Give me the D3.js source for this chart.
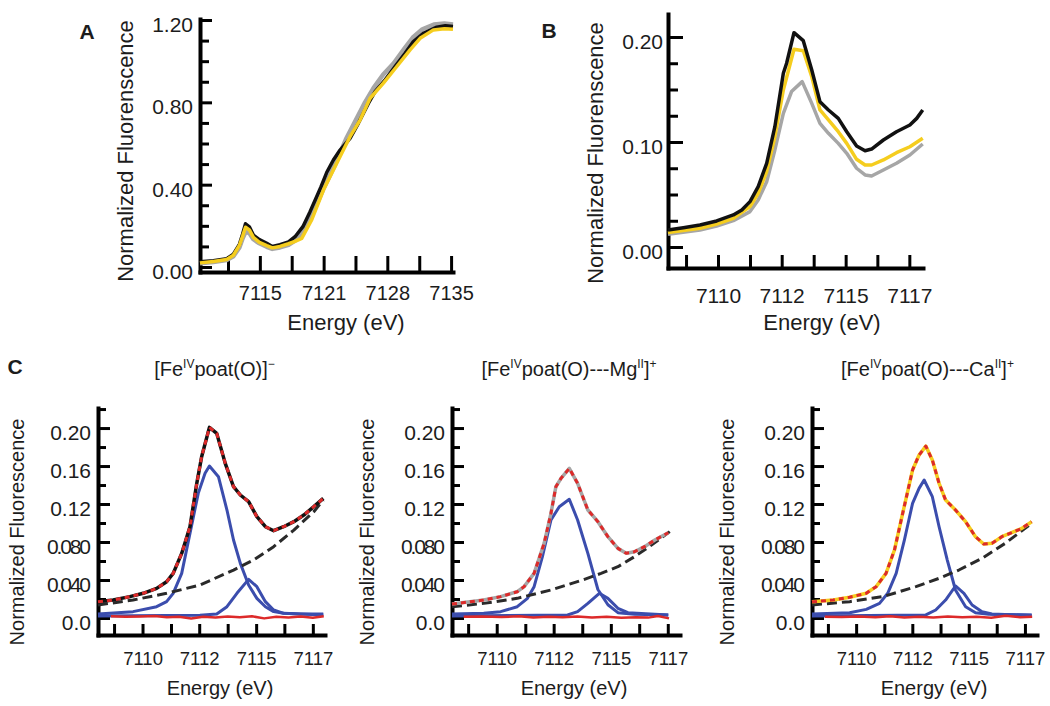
<!DOCTYPE html>
<html>
<head>
<meta charset="utf-8">
<script src="https://cdn.jsdelivr.net/npm/d3@7"></script>
<style>
  body { margin: 0; background: #fff; }
  svg text { font-family: "Liberation Sans", Arial, Helvetica, sans-serif; fill: #1c1c1c; }
</style>
</head>
<body>
<svg id="chart" width="1050" height="706"></svg>
<script>
//======
// Data  [energy eV, normalized fluorescence]
//======

// A: full edge
var aBlack = [[7108.74,0.025],[7110.13,0.03],[7111.53,0.04],[7112.23,0.062],[7112.86,0.11],[7113.2,0.16],[7113.5,0.21],[7113.9,0.195],[7114.32,0.155],[7114.95,0.133],[7115.72,0.115],[7116.3,0.1],[7117.1,0.108],[7118.0,0.122],[7118.68,0.147],[7119.5,0.196],[7120.25,0.269],[7121.4,0.39],[7122.0,0.46],[7122.69,0.52],[7123.39,0.568],[7124.43,0.625],[7125.3,0.698],[7126.35,0.795],[7127.05,0.852],[7128.1,0.909],[7129.14,0.974],[7130.19,1.038],[7131.06,1.095],[7132.1,1.135],[7133.5,1.165],[7134.4,1.172],[7135.2,1.168]];
var aYellow = [[7108.74,0.02],[7110.13,0.027],[7111.53,0.036],[7112.23,0.057],[7112.86,0.105],[7113.2,0.15],[7113.5,0.193],[7113.9,0.18],[7114.32,0.144],[7114.95,0.12],[7115.72,0.104],[7116.3,0.093],[7117.1,0.1],[7118.0,0.113],[7118.68,0.125],[7119.38,0.139],[7120.43,0.23],[7121.65,0.374],[7123.04,0.504],[7124.43,0.633],[7125.48,0.714],[7126.53,0.82],[7127.92,0.893],[7129.32,0.974],[7130.71,1.055],[7131.76,1.111],[7133.15,1.152],[7134.3,1.158],[7135.2,1.155]];
var aGray = [[7108.74,0.018],[7110.13,0.024],[7111.53,0.034],[7112.23,0.052],[7112.86,0.095],[7113.2,0.14],[7113.52,0.172],[7113.9,0.165],[7114.32,0.135],[7114.95,0.115],[7115.72,0.098],[7116.3,0.088],[7117.1,0.095],[7118.0,0.108],[7118.68,0.128],[7119.38,0.16],[7120.43,0.25],[7121.65,0.38],[7122.9,0.5],[7124.0,0.62],[7125.0,0.71],[7126.0,0.8],[7126.9,0.87],[7127.9,0.935],[7129.0,0.99],[7130.1,1.06],[7131.0,1.115],[7132.0,1.155],[7133.2,1.178],[7134.3,1.183],[7135.2,1.178]];

// B: pre-edge
var bBlack = [[7108.17,0.0162],[7108.73,0.0184],[7109.34,0.021],[7109.95,0.0248],[7110.56,0.0305],[7110.87,0.0352],[7111.17,0.0432],[7111.47,0.0575],[7111.78,0.0797],[7112.08,0.1146],[7112.39,0.1654],[7112.51,0.175],[7112.78,0.2041],[7113.12,0.1965],[7113.43,0.1686],[7113.73,0.1384],[7114.04,0.1305],[7114.4,0.1225],[7114.71,0.1098],[7115.07,0.0962],[7115.38,0.0917],[7115.62,0.0933],[7116.05,0.1019],[7116.53,0.1098],[7117.02,0.1162],[7117.27,0.1225],[7117.49,0.1305]];
var bYellow = [[7108.17,0.0137],[7109.34,0.0178],[7109.95,0.0219],[7110.56,0.0273],[7111.17,0.0384],[7111.47,0.0511],[7111.78,0.0717],[7112.08,0.105],[7112.39,0.1495],[7112.78,0.1883],[7113.12,0.187],[7113.43,0.1622],[7113.73,0.1305],[7114.04,0.121],[7114.4,0.1098],[7114.71,0.0987],[7115.07,0.0835],[7115.38,0.0781],[7115.62,0.0781],[7116.05,0.0829],[7116.53,0.0898],[7117.02,0.0955],[7117.49,0.1035]];
var bGray = [[7108.17,0.0121],[7109.34,0.0162],[7109.95,0.02],[7110.56,0.0251],[7111.17,0.0337],[7111.47,0.0448],[7111.78,0.0622],[7112.08,0.0924],[7112.39,0.1273],[7112.69,0.148],[7113.08,0.1575],[7113.43,0.1368],[7113.73,0.1178],[7114.04,0.1083],[7114.4,0.0987],[7114.71,0.0892],[7115.07,0.075],[7115.38,0.0686],[7115.62,0.0676],[7116.05,0.0733],[7116.53,0.0797],[7117.02,0.0876],[7117.49,0.0981]];

// C: fits (data, two pre-edge peaks, edge background, residual)
var c1Data = [[7108.17,0.0170],[7108.79,0.0189],[7109.48,0.0225],[7110.03,0.026],[7110.58,0.0312],[7110.99,0.0382],[7111.26,0.047],[7111.61,0.068],[7111.95,0.0961],[7112.23,0.1418],[7112.43,0.1698],[7112.75,0.2007],[7113.05,0.1944],[7113.4,0.1628],[7113.74,0.1382],[7114.02,0.1295],[7114.36,0.1225],[7114.7,0.1067],[7115.05,0.0961],[7115.39,0.0919],[7115.8,0.0961],[7116.22,0.1014],[7116.63,0.1084],[7117.04,0.1172],[7117.43,0.126]];
var c1Peak1 = [[7108.17,0.0042],[7109.61,0.0067],[7110.58,0.0119],[7110.99,0.0172],[7111.26,0.026],[7111.61,0.047],[7111.95,0.0891],[7112.29,0.1312],[7112.57,0.1523],[7112.75,0.16],[7113.12,0.1488],[7113.47,0.1137],[7113.74,0.0821],[7114.02,0.0575],[7114.36,0.0347],[7114.7,0.0207],[7115.05,0.0119],[7115.39,0.0067],[7115.8,0.0049],[7116.49,0.0042],[7117.43,0.0042]];
var c1Peak2 = [[7108.17,0.0021],[7112.36,0.0028],[7113.05,0.0042],[7113.47,0.0119],[7113.88,0.026],[7114.36,0.0407],[7114.7,0.033],[7115.05,0.0172],[7115.39,0.0084],[7115.8,0.0049],[7117.43,0.0032]];
var c1Edge = [[7108.17,0.0137],[7109.61,0.0189],[7110.99,0.026],[7112.36,0.0347],[7113.74,0.0505],[7114.56,0.061],[7115.39,0.0751],[7116.22,0.0926],[7117.04,0.1119],[7117.43,0.1242]];
var c1Resid = [[7108.7,0.0018],[7109.3,0.0012],[7109.9,0.0016],[7110.5,0.0022],[7111.0,0.0008],[7111.5,0.0014],[7112.0,-0.0005],[7112.5,0.0012],[7113.0,0.0004],[7113.5,0.0015],[7114.0,0.0008],[7114.5,0.0018],[7115.0,-0.0004],[7115.5,0.0012],[7116.0,0.0006],[7116.5,0.0015],[7117.0,0.0002],[7117.45,0.0018]];

var c2Data = [[7108.17,0.0147],[7109.47,0.0189],[7110.16,0.0225],[7110.84,0.0277],[7111.12,0.033],[7111.53,0.047],[7111.94,0.0786],[7112.22,0.1102],[7112.42,0.1382],[7112.63,0.147],[7112.97,0.1575],[7113.31,0.1418],[7113.73,0.1137],[7114.14,0.1014],[7114.55,0.0856],[7114.96,0.0733],[7115.3,0.0681],[7115.64,0.0698],[7116.05,0.0751],[7116.47,0.0821],[7117.02,0.0898]];
var c2Peak1 = [[7108.17,0.0042],[7109.47,0.0049],[7110.16,0.0067],[7110.84,0.0119],[7111.26,0.0207],[7111.53,0.033],[7111.87,0.0646],[7112.22,0.1032],[7112.56,0.1172],[7112.97,0.125],[7113.31,0.1032],[7113.73,0.0681],[7114.14,0.03],[7114.55,0.014],[7114.96,0.0056],[7115.64,0.0039],[7117.02,0.0032]];
var c2Peak2 = [[7108.17,0.0021],[7112.9,0.0032],[7113.31,0.0067],[7113.73,0.0154],[7114.2,0.026],[7114.55,0.0207],[7114.96,0.0102],[7115.37,0.0056],[7117.02,0.0032]];
var c2Edge = [[7108.17,0.0119],[7109.47,0.0154],[7110.84,0.0207],[7112.22,0.0295],[7113.59,0.0407],[7114.27,0.047],[7114.96,0.054],[7115.64,0.0646],[7116.33,0.0768],[7117.08,0.0909]];
var c2Resid = [[7108.65,0.0012],[7109.4,0.0015],[7110.2,0.001],[7110.9,0.0018],[7111.5,0.0006],[7112.1,0.0014],[7112.7,0.0008],[7113.3,0.0016],[7113.9,0.0005],[7114.5,0.0012],[7115.1,0.0002],[7115.7,0.0008],[7116.2,0.0004],[7116.6,0.0022],[7117.05,-0.0004]];

var c3Data = [[7108.17,0.0170],[7109.05,0.0189],[7109.73,0.0218],[7110.42,0.026],[7110.83,0.033],[7111.24,0.047],[7111.59,0.0716],[7111.93,0.1102],[7112.34,0.1558],[7112.61,0.1716],[7112.89,0.181],[7113.16,0.1663],[7113.44,0.1418],[7113.71,0.1242],[7114.12,0.1137],[7114.54,0.1014],[7114.95,0.0856],[7115.29,0.0779],[7115.63,0.0786],[7116.04,0.0856],[7116.45,0.0898],[7116.87,0.0944],[7117.28,0.1014]];
var c3Peak1 = [[7108.17,0.0042],[7109.73,0.0056],[7110.42,0.0091],[7110.97,0.0154],[7111.31,0.026],[7111.66,0.047],[7112.0,0.0821],[7112.34,0.1207],[7112.61,0.1365],[7112.82,0.1453],[7113.16,0.1277],[7113.44,0.0961],[7113.78,0.061],[7114.12,0.0295],[7114.54,0.0119],[7114.95,0.0056],[7115.5,0.0039],[7117.28,0.0032]];
var c3Peak2 = [[7108.17,0.0021],[7112.89,0.0032],[7113.3,0.0084],[7113.71,0.0189],[7114.12,0.0337],[7114.47,0.026],[7114.81,0.0137],[7115.22,0.0067],[7115.63,0.0042],[7117.28,0.0028]];
var c3Edge = [[7108.17,0.0137],[7109.73,0.0172],[7111.11,0.0225],[7112.48,0.033],[7113.44,0.0418],[7114.26,0.0505],[7115.22,0.0628],[7116.18,0.0786],[7117.28,0.0996]];
var c3Resid = [[7108.7,0.0012],[7109.4,0.001],[7110.1,0.0016],[7110.8,0.0008],[7111.4,0.0018],[7112.0,0.0006],[7112.6,0.0014],[7113.2,0.0004],[7113.8,0.0016],[7114.4,0.0008],[7115.0,0.0012],[7115.6,0.0002],[7116.2,0.0024],[7116.8,0.0008],[7117.3,0.0012]];

// ticks
var aXTicks = [7111.67, 7115, 7118.33, 7121.67, 7125, 7128.33, 7131.67, 7135];
var aXLabels = ["", "7115", "", "7121", "", "7128", "", "7135"];
var aYMajor = [0, 0.4, 0.8, 1.2];
var aYLabels = ["0.00", "0.40", "0.80", "1.20"];
var aYMinor = [0.1, 0.2, 0.3, 0.5, 0.6, 0.7, 0.9, 1.0, 1.1];

var bcXTicks = [7108.83, 7110, 7111.17, 7112.33, 7113.5, 7114.67, 7115.83, 7117];
var bcXLabels = ["", "7110", "", "7112", "", "7115", "", "7117"];
var bYMajor = [0, 0.1, 0.2];
var bYLabels = ["0.00", "0.10", "0.20"];
var bYMinor = [0.025, 0.05, 0.075, 0.125, 0.15, 0.175];

var cYMajor = [0, 0.04, 0.08, 0.12, 0.16, 0.20];
var cYLabels = ["0.0", "0.040", "0.080", "0.12", "0.16", "0.20"];
var cYMinor = [0.02, 0.06, 0.10, 0.14, 0.18, 0.22];

// C titles: [text, superscript?]
var cTitles = [
  [["[Fe", 0], ["IV", 1], ["poat(O)]", 0], ["\u2212", 1]],
  [["[Fe", 0], ["IV", 1], ["poat(O)---Mg", 0], ["II", 1], ["]", 0], ["+", 1]],
  [["[Fe", 0], ["IV", 1], ["poat(O)---Ca", 0], ["II", 1], ["]", 0], ["+", 1]]
];

var BLACK = "#111", YELLOW = "#f5cd1e", GRAY = "#a6a6a6", BLUE = "#3b4dad", RED = "#dd2a2a";

//=======
// Panels
//=======
var svg = d3.select("#chart");

function drawPanel(p) {
  var g = svg.append("g");
  var x = d3.scaleLinear().domain(p.xDomain).range([p.left, p.right]);
  var y = d3.scaleLinear().domain(p.yDomain).range([p.bottom, p.top]);

  // minor y ticks
  var yMin = g.append("g")
    .attr("transform", "translate(" + p.left + ",0)")
    .call(d3.axisLeft(y).tickValues(p.yMinor).tickSize(-p.minorLen).tickFormat(""));
  yMin.select(".domain").remove();

  // major y ticks + labels
  var yMaj = g.append("g")
    .attr("transform", "translate(" + p.left + ",0)")
    .call(d3.axisLeft(y).tickValues(p.yMajor).tickSizeInner(-p.majorLen).tickSizeOuter(0)
      .tickPadding(p.yPad).tickFormat(function(d, i) { return p.yLabels[i]; }));
  yMaj.selectAll("text").attr("dy", "0.55em").attr("font-size", p.yTickFont)
    .attr("textLength", function(d, i) { return p.yLabels[i].length > 4 ? p.longLen : null; });

  // x axis
  var xAx = g.append("g")
    .attr("transform", "translate(0," + p.bottom + ")")
    .call(d3.axisBottom(x).tickValues(p.xTicks).tickSizeInner(-p.xTickLen).tickSizeOuter(0)
      .tickPadding(p.xPad).tickFormat(function(d, i) { return p.xLabels[i]; }));
  xAx.selectAll("text").attr("font-size", p.xTickFont);

  g.selectAll(".domain").attr("stroke", "#000").attr("stroke-width", 4).attr("stroke-linecap", "square");
  g.selectAll(".tick line").attr("stroke", "#000").attr("stroke-width", 3);
  g.selectAll("g").attr("font-family", null);

  var line = d3.line().x(function(d) { return x(d[0]); }).y(function(d) { return y(d[1]); });

  p.series.forEach(function(s) {
    g.append("path")
      .attr("d", line(s.data))
      .attr("fill", "none")
      .attr("stroke", s.color)
      .attr("stroke-width", s.width)
      .attr("stroke-dasharray", s.dash || null)
      .attr("stroke-linejoin", "round");
  });

  // axis titles
  g.append("text")
    .attr("x", p.xTitleX).attr("y", p.bottom + p.xTitleDy)
    .attr("text-anchor", "middle").attr("font-size", p.titleFont)
    .text("Energy (eV)");
  g.append("text")
    .attr("transform", "translate(" + p.yTitleX + "," + p.yTitleY + ") rotate(-90)")
    .attr("dy", "0.35em")
    .attr("text-anchor", "middle").attr("font-size", p.yTitleFont)
    .text(p.yTitle);

  if (p.letter) {
    svg.append("text").attr("x", p.letter[1]).attr("y", p.letter[2])
      .attr("text-anchor", "middle").attr("font-size", 21).attr("font-weight", "bold")
      .text(p.letter[0]);
  }

  if (p.title) {
    var t = g.append("text")
      .attr("x", (p.left + p.right) / 2 + 3).attr("y", 376)
      .attr("text-anchor", "middle").attr("font-size", 20);
    var up = 0;
    p.title.forEach(function(seg) {
      var ts = t.append("tspan").text(seg[0]);
      if (seg[1] && !up) { ts.attr("dy", -8).attr("font-size", 12); up = 1; }
      else if (seg[1]) { ts.attr("font-size", 12); }
      else if (up) { ts.attr("dy", 8); up = 0; }
    });
  }
}

// A
drawPanel({
  left: 200, right: 453, top: 19, bottom: 272,
  xDomain: [7108.74, 7135.2], yDomain: [-0.0243, 1.2049],
  xTicks: aXTicks, xLabels: aXLabels, yMajor: aYMajor, yLabels: aYLabels, yMinor: aYMinor,
  minorLen: 9, majorLen: 12, xTickLen: 16, yPad: 7, xPad: 14,
  yTickFont: 21, xTickFont: 20, titleFont: 22, yTitleFont: 22, longLen: 50,
  xTitleX: 346, xTitleDy: 58, yTitleX: 125, yTitleY: 151,
  yTitle: "Normalized Fluorenscence", letter: ["A", 87, 39],
  series: [
    { data: aGray, color: GRAY, width: 4.5 },
    { data: aBlack, color: BLACK, width: 3.5 },
    { data: aYellow, color: YELLOW, width: 3.5 }
  ]
});

// B
drawPanel({
  left: 668, right: 923, top: 14, bottom: 268,
  xDomain: [7108.17, 7117.5], yDomain: [-0.02, 0.2219],
  xTicks: bcXTicks, xLabels: bcXLabels, yMajor: bYMajor, yLabels: bYLabels, yMinor: bYMinor,
  minorLen: 10, majorLen: 15, xTickLen: 13, yPad: 5, xPad: 20,
  yTickFont: 21, xTickFont: 21, titleFont: 22, yTitleFont: 22, longLen: 50,
  xTitleX: 822, xTitleDy: 62, yTitleX: 595, yTitleY: 153,
  yTitle: "Normalized Fluorenscence", letter: ["B", 549, 38],
  series: [
    { data: bGray, color: GRAY, width: 3.5 },
    { data: bYellow, color: YELLOW, width: 3.5 },
    { data: bBlack, color: BLACK, width: 3.5 }
  ]
});

// C
var cPanels = [
  { left: 98, right: 325, data: c1Data, color: BLACK, p1: c1Peak1, p2: c1Peak2, edge: c1Edge, res: c1Resid, yx: 17, xx: 220, letter: ["C", 15, 374] },
  { left: 452, right: 680, data: c2Data, color: GRAY, p1: c2Peak1, p2: c2Peak2, edge: c2Edge, res: c2Resid, yx: 367, xx: 574 },
  { left: 812, right: 1037, data: c3Data, color: YELLOW, p1: c3Peak1, p2: c3Peak2, edge: c3Edge, res: c3Resid, yx: 727, xx: 934 }
];

cPanels.forEach(function(c, i) {
  drawPanel({
    left: c.left, right: c.right, top: 408, bottom: 635,
    xDomain: [7108.17, 7117.5], yDomain: [-0.0179, 0.2211],
    xTicks: bcXTicks, xLabels: bcXLabels, yMajor: cYMajor, yLabels: cYLabels, yMinor: cYMinor,
    minorLen: 8, majorLen: 12, xTickLen: 11, yPad: 7, xPad: 17,
    yTickFont: 21, xTickFont: 18.5, titleFont: 20, yTitleFont: 20, longLen: 44,
    xTitleX: c.xx, xTitleDy: 60, yTitleX: c.yx, yTitleY: 532,
    yTitle: "Normalized Fluorescence", letter: c.letter, title: cTitles[i],
    series: [
      { data: c.p1, color: BLUE, width: 3 },
      { data: c.p2, color: BLUE, width: 3 },
      { data: c.edge, color: "#2a2a2a", width: 3, dash: "10,5" },
      { data: c.res, color: RED, width: 2.5 },
      { data: c.data, color: c.color, width: 3.5 },
      { data: c.data, color: RED, width: 3, dash: "5,4" }
    ]
  });
});
</script>
</body>
</html>
